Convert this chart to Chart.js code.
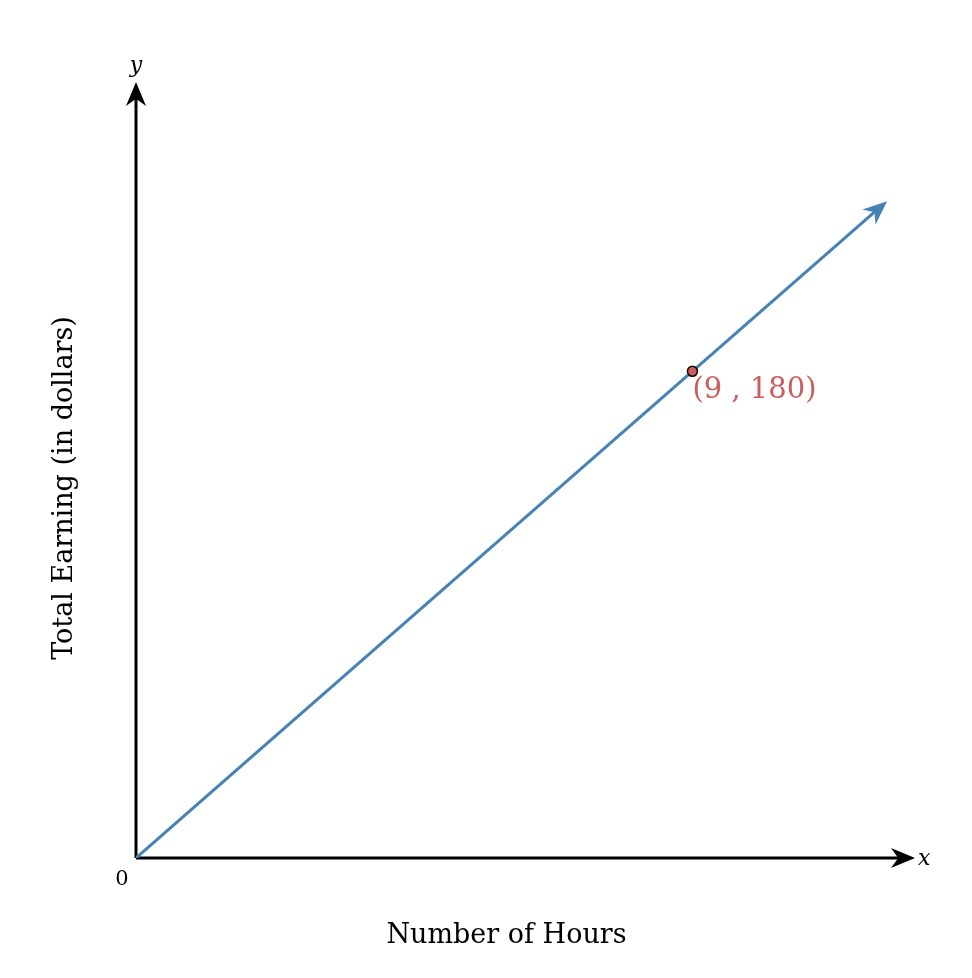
<!DOCTYPE html>
<html>
<head>
<meta charset="utf-8">
<script src="https://cdn.jsdelivr.net/npm/chart.js@4"></script>
<style>
  html, body { margin: 0; padding: 0; background: #fff; }
  #wrap { width: 972px; height: 978px; }
</style>
</head>
<body>
<div id="wrap"><canvas id="chart"></canvas></div>
<script>
// earnings line: y = 20x, drawn past the marked point to its arrowhead
const lineX = [0, 12.1];
const lineY = [0, 242];
const pointX = [9];
const pointY = [180];
const pointLabels = ['(9 , 180)'];
const xMax = 12.6;
const yMax = 287;
const xTitle = 'Number of Hours';
const yTitle = 'Total Earning (in dollars)';

const serif = '"DejaVu Serif", "Liberation Serif", serif';

function arrowHead(ctx, x0, y0, x1, y1, color, len, half) {
    const ang = Math.atan2(y1 - y0, x1 - x0);
    ctx.save();
    ctx.translate(x1, y1);
    ctx.rotate(ang);
    ctx.fillStyle = color;
    ctx.beginPath();
    ctx.moveTo(0, 0);
    ctx.lineTo(-len, -half);
    ctx.lineTo(-len * 0.7, 0);
    ctx.lineTo(-len, half);
    ctx.closePath();
    ctx.fill();
    ctx.restore();
}

const axesPlugin = {
    id: 'axesPlugin',
    beforeDatasetsDraw(chart) {
        const { ctx, scales } = chart;
        const ox = scales.x.getPixelForValue(0);
        const oy = scales.y.getPixelForValue(0);
        const xe = scales.x.getPixelForValue(xMax);
        const ye = scales.y.getPixelForValue(yMax);
        ctx.save();
        ctx.strokeStyle = '#000';
        ctx.lineWidth = 3;
        ctx.beginPath();
        ctx.moveTo(ox, oy);
        ctx.lineTo(xe - 10, oy);
        ctx.moveTo(ox, oy);
        ctx.lineTo(ox, ye + 10);
        ctx.stroke();
        arrowHead(ctx, ox, oy, xe, oy, '#000', 24, 10);
        arrowHead(ctx, ox, oy, ox, ye, '#000', 24, 10);

        ctx.fillStyle = '#000';
        ctx.font = 'italic 22px ' + serif;
        ctx.textAlign = 'center';
        ctx.textBaseline = 'alphabetic';
        ctx.fillText('y', ox, ye - 10);
        ctx.textAlign = 'left';
        ctx.fillText('x', xe + 3, oy + 7);
        ctx.font = '21px ' + serif;
        ctx.textAlign = 'center';
        ctx.fillText('0', ox - 14, oy + 27);

        ctx.font = '27px ' + serif;
        ctx.fillText(xTitle, (ox + xe) / 2 - 19, oy + 85);
        ctx.save();
        ctx.translate(ox - 71, (oy + ye) / 2 + 18);
        ctx.rotate(-Math.PI / 2);
        ctx.textBaseline = 'middle';
        ctx.fillText(yTitle, 0, 0);
        ctx.restore();
        ctx.restore();
    },
    afterDatasetsDraw(chart) {
        const { ctx, scales } = chart;
        const n = lineX.length - 1;
        const x0 = scales.x.getPixelForValue(lineX[n - 1]);
        const y0 = scales.y.getPixelForValue(lineY[n - 1]);
        const x1 = scales.x.getPixelForValue(lineX[n]);
        const y1 = scales.y.getPixelForValue(lineY[n]);
        arrowHead(ctx, x0, y0, x1 + 3, y1 - 2.5, '#4682b4', 24, 10);

        ctx.save();
        ctx.fillStyle = '#cd5c5c';
        ctx.font = '29px ' + serif;
        ctx.textAlign = 'left';
        ctx.textBaseline = 'alphabetic';
        pointX.forEach((px, i) => {
            ctx.fillText(pointLabels[i], scales.x.getPixelForValue(px), scales.y.getPixelForValue(pointY[i]) + 27);
        });
        ctx.restore();
    }
};

new Chart(document.getElementById('chart'), {
    type: 'scatter',
    data: {
        datasets: [
            {
                data: pointX.map((x, i) => ({ x, y: pointY[i] })),
                pointRadius: 5,
                pointBackgroundColor: '#cd5c5c',
                pointBorderColor: '#000',
                pointBorderWidth: 1.5,
                order: 0
            },
            {
                data: lineX.map((x, i) => ({ x, y: lineY[i] })),
                showLine: true,
                borderColor: '#4682b4',
                borderWidth: 3,
                pointRadius: 0,
                order: 1
            }
        ]
    },
    options: {
        responsive: true,
        maintainAspectRatio: false,
        animation: false,
        layout: { padding: { left: 136, top: 82, right: 57, bottom: 120 } },
        plugins: { legend: { display: false }, tooltip: { enabled: false } },
        scales: {
            x: { type: 'linear', display: false, min: 0, max: xMax },
            y: { type: 'linear', display: false, min: 0, max: yMax }
        }
    },
    plugins: [axesPlugin]
});
</script>
</body>
</html>
